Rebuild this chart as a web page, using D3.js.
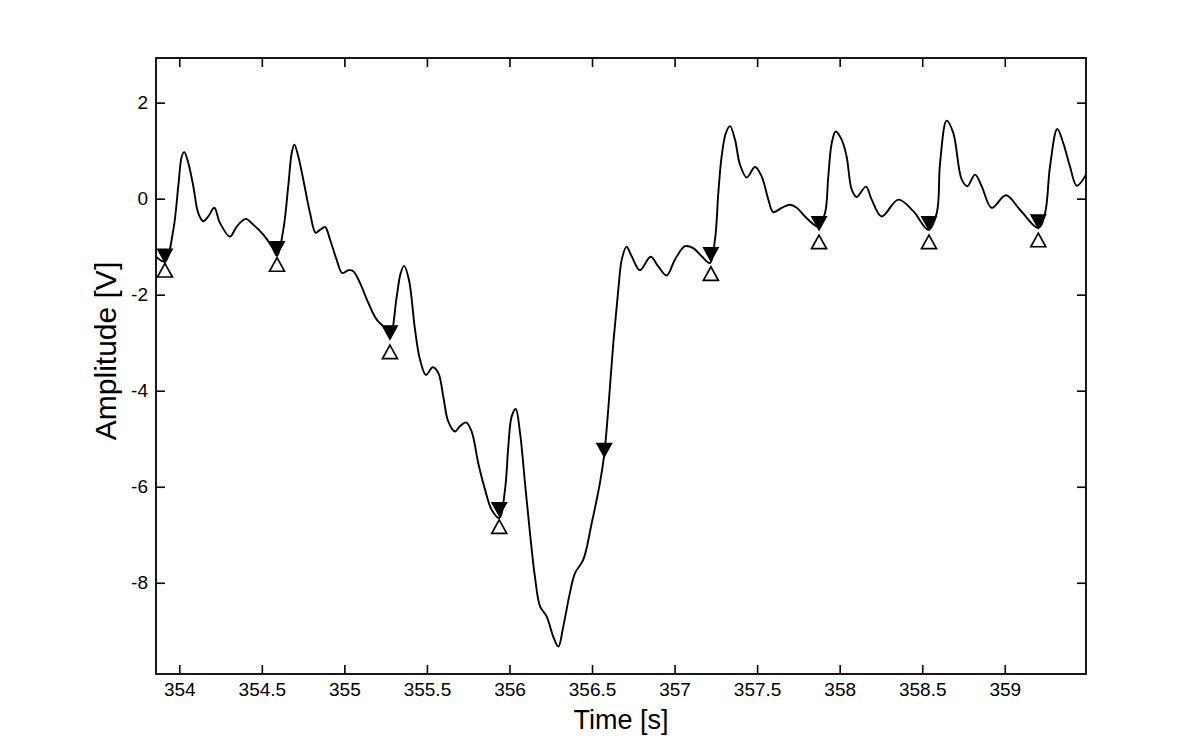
<!DOCTYPE html>
<html>
<head>
<meta charset="utf-8">
<script src="https://cdn.jsdelivr.net/npm/d3@7"></script>
<style>
  html, body { margin: 0; padding: 0; background: #fff; }
  svg { display: block; }
  text { font-family: "Liberation Sans", Arial, sans-serif; fill: #000; }
</style>
</head>
<body>
<svg id="chart" width="1200" height="756"></svg>
<script>
// ---- data ----
const time = [353.859,353.913,353.964,353.994,354.015,354.030,354.055,354.085,354.115,354.145,
  354.176,354.212,354.247,354.307,354.348,354.402,354.448,354.509,354.561,354.592,
  354.630,354.660,354.681,354.697,354.721,354.751,354.792,354.826,354.852,354.883,
  354.913,354.953,354.987,355.024,355.054,355.095,355.145,355.196,355.236,355.276,
  355.317,355.341,355.362,355.391,355.428,355.458,355.494,355.535,355.569,355.599,
  355.629,355.670,355.700,355.737,355.771,355.811,355.852,355.892,355.938,355.973,
  355.993,356.013,356.038,356.064,356.094,356.124,356.154,356.185,356.225,356.265,
  356.296,356.326,356.366,356.397,356.447,356.498,356.548,356.574,356.598,356.629,
  356.659,356.680,356.709,356.740,356.790,356.855,356.901,356.952,357.002,357.063,
  357.113,357.164,357.214,357.245,357.265,357.285,357.311,357.336,357.366,357.396,
  357.437,357.487,357.528,357.568,357.598,357.649,357.699,357.740,357.790,357.870,
  357.911,357.931,357.952,357.976,358.012,358.042,358.073,358.103,358.159,358.194,
  358.254,358.355,358.446,358.538,358.588,358.608,358.648,358.688,358.739,358.773,
  358.820,358.860,358.921,359.007,359.092,359.203,359.244,359.274,359.318,359.354,
  359.395,359.436,359.492];
const amplitude = [-1.21,-1.31,-0.65,0.26,0.88,0.97,0.74,0.26,-0.30,-0.47,
  -0.37,-0.19,-0.51,-0.79,-0.58,-0.42,-0.54,-0.75,-1.00,-1.19,
  -0.65,0.26,0.95,1.125,0.88,0.40,-0.30,-0.71,-0.65,-0.59,
  -0.85,-1.27,-1.55,-1.49,-1.51,-1.76,-2.17,-2.52,-2.66,-2.875,
  -2.04,-1.55,-1.40,-1.69,-2.73,-3.35,-3.67,-3.51,-3.63,-4.12,
  -4.64,-4.85,-4.74,-4.66,-4.85,-5.51,-6.06,-6.48,-6.65,-6.06,
  -5.16,-4.54,-4.38,-4.88,-5.92,-6.96,-7.87,-8.49,-8.70,-9.12,
  -9.33,-8.91,-8.21,-7.80,-7.52,-6.76,-5.92,-5.33,-4.40,-3.01,
  -1.90,-1.27,-1.00,-1.20,-1.49,-1.21,-1.41,-1.60,-1.27,-0.99,
  -1.03,-1.20,-1.34,-0.85,0.12,0.88,1.37,1.51,1.23,0.71,
  0.44,0.66,0.46,-0.02,-0.28,-0.19,-0.125,-0.19,-0.37,-0.58,
  -0.30,0.46,1.16,1.40,1.23,0.88,0.19,0.035,0.25,-0.02,
  -0.37,-0.02,-0.26,-0.65,-0.30,0.74,1.625,1.37,0.40,0.26,
  0.50,0.26,-0.19,0.07,-0.23,-0.61,-0.30,0.67,1.45,1.16,
  0.67,0.27,0.50];

// filled downward-triangle markers
const filledTime = [353.913,354.592,355.276,355.938,356.574,357.220,357.875,358.541,359.203];
const filledAmp  = [-1.19,-1.035,-2.79,-6.47,-5.24,-1.16,-0.515,-0.515,-0.48];
// open upward-triangle markers
const openTime = [353.913,354.592,355.276,355.938,357.220,357.875,358.541,359.203];
const openAmp  = [-1.49,-1.37,-3.19,-6.83,-1.56,-0.90,-0.90,-0.86];

const xTicks = [354,354.5,355,355.5,356,356.5,357,357.5,358,358.5,359];
const yTicks = [2,0,-2,-4,-6,-8];
const xLabel = "Time [s]";
const yLabel = "Amplitude [V]";

// ---- layout ----
const L = 156, R = 1086, T = 58, B = 674;
const svg = d3.select("#chart");

const x = d3.scaleLinear().domain([353.859, 359.492]).range([L, R]);
const y = d3.scaleLinear().domain([-9.9, 2.93]).range([B, T]);

const tickLen = 9;
function styleAxis(g, showText) {
  g.select(".domain").remove();
  g.selectAll(".tick line").attr("stroke", "#000").attr("stroke-width", 1.6);
  g.selectAll(".tick text").attr("font-size", 19).attr("font-family", "Liberation Sans, Arial, sans-serif").attr("fill", "#000");
  if (!showText) g.selectAll(".tick text").remove();
}

svg.append("g").attr("transform", `translate(0,${B})`)
  .call(d3.axisBottom(x).tickValues(xTicks).tickSize(-tickLen).tickPadding(9).tickFormat(d3.format("")))
  .call(g => styleAxis(g, true));
svg.append("g").attr("transform", `translate(0,${T})`)
  .call(d3.axisTop(x).tickValues(xTicks).tickSize(-tickLen))
  .call(g => styleAxis(g, false));
svg.append("g").attr("transform", `translate(${L},0)`)
  .call(d3.axisLeft(y).tickValues(yTicks).tickSize(-tickLen).tickPadding(8).tickFormat(d => String(d).replace("\u2212","-")))
  .call(g => styleAxis(g, true));
svg.append("g").attr("transform", `translate(${R},0)`)
  .call(d3.axisRight(y).tickValues(yTicks).tickSize(-tickLen))
  .call(g => styleAxis(g, false));

// box
svg.append("rect").attr("x", L).attr("y", T).attr("width", R - L).attr("height", B - T)
  .attr("fill", "none").attr("stroke", "#000").attr("stroke-width", 1.8);

// clip
svg.append("clipPath").attr("id", "clip").append("rect")
  .attr("x", L).attr("y", T).attr("width", R - L).attr("height", B - T);

const pts = time.map((t, i) => [t, amplitude[i]]);
const line = d3.line().x(d => x(d[0])).y(d => y(d[1])).curve(d3.curveCatmullRom.alpha(0.5));
svg.append("path").datum(pts).attr("clip-path", "url(#clip)")
  .attr("d", line).attr("fill", "none").attr("stroke", "#000").attr("stroke-width", 1.9)
  .attr("stroke-linejoin", "round");

// markers
const hw = 7.5, hh = 6.8;
const down = `M${-hw},${-hh}L${hw},${-hh}L0,${hh}Z`;
const up = `M0,${-hh}L${hw},${hh}L${-hw},${hh}Z`;
svg.append("g").selectAll("path").data(openTime.map((t, i) => [t, openAmp[i]])).join("path")
  .attr("transform", d => `translate(${x(d[0])},${y(d[1])})`)
  .attr("d", up).attr("fill", "none").attr("stroke", "#000").attr("stroke-width", 1.7);
svg.append("g").selectAll("path").data(filledTime.map((t, i) => [t, filledAmp[i]])).join("path")
  .attr("transform", d => `translate(${x(d[0])},${y(d[1])})`)
  .attr("d", down).attr("fill", "#000").attr("stroke", "#000").attr("stroke-width", 1.2);

// axis labels
svg.append("text").attr("x", (L + R) / 2).attr("y", 729).attr("text-anchor", "middle")
  .attr("font-size", 27).text(xLabel);
svg.append("text").attr("transform", `translate(116,351) rotate(-90)`).attr("text-anchor", "middle")
  .attr("font-size", 30).text(yLabel);
</script>
</body>
</html>
